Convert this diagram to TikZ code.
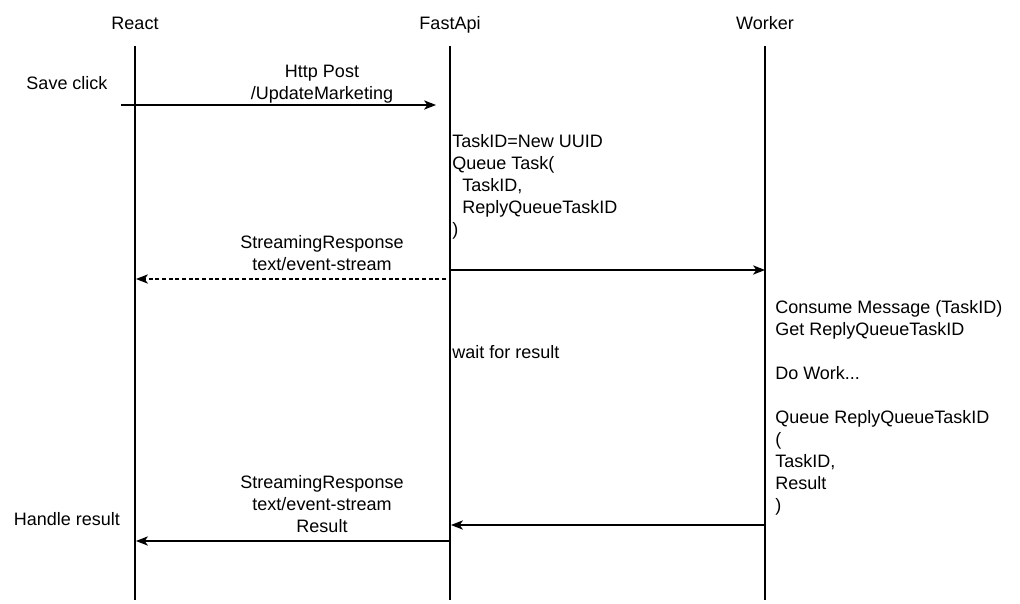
\documentclass[tikz,border=0pt]{standalone}
\usepackage{fontspec}
\setmainfont{Liberation Sans}
\usetikzlibrary{arrows.meta}

\tikzset{
  lane/.style={line width=0.8pt},
  msg/.style={line width=0.8pt, -{Stealth[length=9pt, width=7pt, inset=2.5pt]}},
  reply/.style={msg, dash pattern=on 3pt off 2pt},
  lbl/.style={inner sep=0pt, align=center},
  note/.style={inner sep=0pt, align=left, anchor=north west},
}

\begin{document}
\begin{tikzpicture}[x=0.75pt, y=-0.75pt, font=\fontsize{13.5}{16.5}\selectfont]
\useasboundingbox (0,0) rectangle (1020,603);

% lifelines
\foreach \name/\x/\title in {react/135/React, fastapi/450/FastApi, worker/765/Worker}{
  \node[lbl, anchor=base] (\name) at (\x,29.5) {\title};
  \coordinate (\name top) at (\x,46);
  \coordinate (\name end) at (\x,600);
  \draw[lane] (\name top) -- (\name end);
}

% request
\node[lbl] (save) at (67,83) {Save click};
\coordinate (click) at (121,105);
\coordinate (post) at (436,105);
\draw[msg] (click) -- (post);
\node[lbl] (http) at (322,84) {Http Post\\/UpdateMarketing};

\node[note] (queue) at (452,134) {TaskID=New UUID\\Queue Task(\\\hspace*{7.5pt}TaskID,\\\hspace*{7.5pt}ReplyQueueTaskID\\)};

\coordinate (send) at (450,270);
\coordinate (recv) at (765,270);
\draw[msg] (send) -- (recv);

\coordinate (stream from) at (446,279);
\coordinate (stream to) at (136,279);
\draw[reply] (stream from) -- (stream to);
\node[lbl] (stream) at (322,253) {StreamingResponse\\text/event-stream};

\node[note] (wait) at (452,345) {wait for result};

% worker
\node[note] (work) at (775,300) {Consume Message (TaskID)\\Get ReplyQueueTaskID\\[16.5pt]Do Work...\\[16.5pt]Queue ReplyQueueTaskID\\(\\TaskID,\\Result\\)};

\coordinate (done) at (765,525);
\coordinate (back) at (451,525);
\draw[msg] (done) -- (back);

\coordinate (result from) at (450,541);
\coordinate (result to) at (136,541);
\draw[msg] (result from) -- (result to);
\node[lbl] (final) at (322,504) {StreamingResponse\\text/event-stream\\Result};
\node[lbl] (handle) at (67,519) {Handle result};
\end{tikzpicture}
\end{document}
